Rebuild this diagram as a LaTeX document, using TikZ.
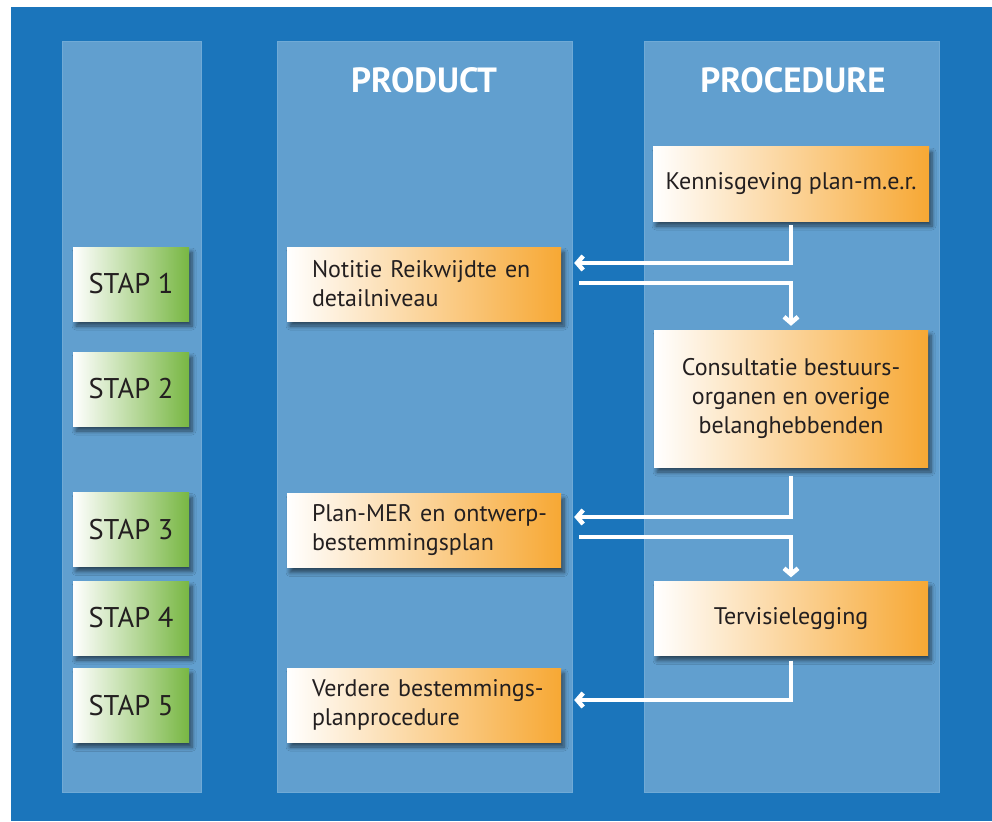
\documentclass[tikz,border=0pt]{standalone}
\usepackage{fontspec}
\setmainfont{PT Sans}
\usetikzlibrary{arrows.meta,shadows.blur}
\definecolor{bgblue}{RGB}{27,117,187}
\definecolor{colblue}{RGB}{97,159,207}
\definecolor{coledge}{RGB}{112,170,214}
\definecolor{orng}{RGB}{247,168,52}
\definecolor{grn}{RGB}{120,183,67}
\definecolor{txt}{RGB}{35,31,32}
\begin{document}
\begin{tikzpicture}[x=1pt,y=-1pt,
  shad/.style={blur shadow={shadow xshift=3pt,shadow yshift=-5pt,shadow blur radius=4pt,shadow blur steps=6,shadow opacity=55}},
  obox/.style={shad,minimum width=274pt,minimum height=74pt,inner sep=0pt,
    left color=white,right color=orng,text=txt,font=\fontsize{24}{29}\selectfont},
  lbox/.style={obox,align=left,text width=224pt},
  cbox/.style={obox,align=center},
  gbox/.style={shad,minimum width=116pt,minimum height=74pt,inner sep=0pt,
    left color=white,right color=grn,text=txt,font=\fontsize{28.5}{32}\selectfont},
  head/.style={text=white,font=\fontsize{35}{40}\selectfont\bfseries},
  arr/.style={draw=white,line width=4.5pt,-{Straight Barb[length=6pt,width=14pt]}}]
\useasboundingbox (0,0) rectangle (992,821);
\fill[white] (0,0) rectangle (992,821);
\fill[bgblue] (11,7) rectangle (992,821);
% columns
\filldraw[fill=colblue,draw=coledge,line width=0.8pt] (62,41) rectangle (201,792);
\filldraw[fill=colblue,draw=coledge,line width=0.8pt] (277,41) rectangle (572,792);
\filldraw[fill=colblue,draw=coledge,line width=0.8pt] (644,41) rectangle (939,792);
% headers
\node[head] (hprod) at (424,80) {PRODUCT};
\node[head] (hproc) at (793,80) {PROCEDURE};
% stap boxes
\node[gbox] (s1) at (131,284) {STAP 1};
\node[gbox] (s2) at (131,389) {STAP 2};
\node[gbox] (s3) at (131,529.5) {STAP 3};
\node[gbox] (s4) at (131,618) {STAP 4};
\node[gbox] (s5) at (131,705.3) {STAP 5};
% product boxes
\node[lbox] (notitie) at (424,284) {\mbox{Notitie Reikwijdte en}\\\mbox{detailniveau}};
\node[lbox] (planmer) at (424,530.5) {\mbox{Plan-MER en ontwerp-}\\\mbox{bestemmingsplan}};
\node[lbox] (verdere) at (424,705) {\mbox{Verdere bestemmings-}\\\mbox{planprocedure}};
% procedure boxes
\node[cbox,minimum width=276pt] (kennis) at (791,184) {Kennisgeving plan-m.e.r.};
\node[cbox,minimum height=137pt] (consult) at (791,398.5) {Consultatie bestuurs-\\organen en overige\\belanghebbenden};
\node[cbox] (tervis) at (791,618.5) {Tervisielegging};
% arrows
\draw[arr] ([yshift=-4pt]kennis.south) |- ([xshift=13pt,yshift=21pt]notitie.east);
\draw[arr] ([xshift=18pt,yshift=1pt]notitie.east) -| ([yshift=4pt]consult.north);
\draw[arr] ([yshift=-9pt]consult.south) |- ([xshift=13pt,yshift=13.5pt]planmer.east);
\draw[arr] ([xshift=18pt,yshift=-6.5pt]planmer.east) -| ([yshift=4pt]tervis.north);
\draw[arr] ([yshift=-5pt]tervis.south) |- ([xshift=13pt,yshift=5pt]verdere.east);
\end{tikzpicture}
\end{document}
